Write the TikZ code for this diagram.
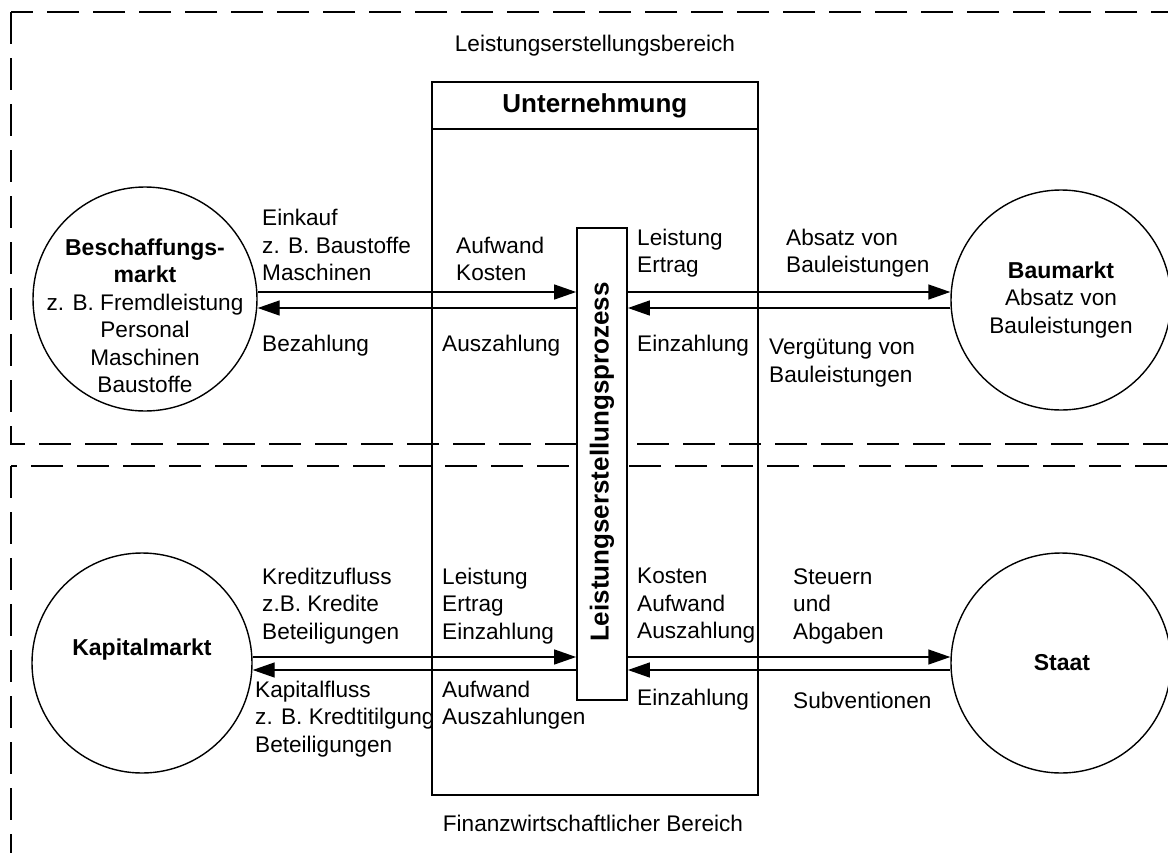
\documentclass[tikz,border=0pt]{standalone}
\usepackage{fontspec}
\setmainfont{Liberation Sans}
\usetikzlibrary{arrows.meta}

\begin{document}
\begin{tikzpicture}[x=1pt,y=-1pt,
  every node/.style={font=\fontsize{22.6}{27.5}\selectfont, inner sep=0pt},
  region/.style={line width=1.5pt, dash pattern=on 32pt off 14pt},
  market/.style={circle, draw, line width=1.4pt},
  box/.style={draw, line width=1.8pt},
  flow/.style={-{Triangle[length=22pt,width=15pt]}, line width=1.4pt},
  lbl/.style={anchor=west, align=left},
  ctr/.style={align=center},
  head/.style={font=\fontsize{26}{30}\selectfont\bfseries},
  mktname/.style={font=\fontsize{23}{27.5}\selectfont\bfseries}]

\useasboundingbox (0,0) rectangle (1168,852);
\clip (0,0) rectangle (1168,852);

% the two areas
\draw[region] (11,12) rectangle (1200,444);
\draw[region] (11,466) rectangle (1200,890);
\node (lbereich) at (595,46) {Leistungserstellungsbereich};
\node (fbereich) at (593,823) {Finanzwirtschaftlicher Bereich};

% the enterprise
\node[box, head, anchor=north west, minimum width=326pt, minimum height=47pt]
  (unthead) at (431,81) {Unternehmung};
\node[box, anchor=north west, minimum width=326pt, minimum height=666pt]
  (unt) at (431,128) {};
\node[box, fill=white, minimum width=50pt, minimum height=472pt] (proc) at (602,464) {};
\node[head, rotate=90] (proclbl) at (602,462) {Leistungserstellungsprozess};

% the markets
\node[market, minimum size=224pt] (besch) at (145,299) {};
\node[market, minimum size=220pt] (bau) at (1061,300) {};
\node[market, minimum size=220pt] (kap) at (142,663) {};
\node[market, minimum size=220pt] (staat) at (1061,663) {};

\node[ctr] (beschtxt) at (145,316)
  {\fontsize{23}{27.5}\selectfont\bfseries Beschaffungs-\\\fontsize{23}{27.5}\selectfont\bfseries markt\\z. B. Fremdleistung\\Personal\\Maschinen\\Baustoffe};
\node[ctr] (bautxt) at (1061,300) {\fontsize{23}{27.5}\selectfont\bfseries Baumarkt\\Absatz von\\Bauleistungen};
\node[mktname] (kaptxt) at (142,650) {Kapitalmarkt};
\node[mktname] (staattxt) at (1062,663) {Staat};

% rows of the flows
\coordinate (r1) at (0,292);
\coordinate (r2) at (0,308);
\coordinate (r3) at (0,657);
\coordinate (r4) at (0,670);

\draw[flow] (besch.east |- r1) -- (proc.west |- r1);
\draw[flow] (proc.west |- r2) -- (besch.east |- r2);
\draw[flow] (proc.east |- r1) -- (bau.west |- r1);
\draw[flow] (bau.west |- r2) -- (proc.east |- r2);
\draw[flow] (kap.east |- r3) -- (proc.west |- r3);
\draw[flow] (proc.west |- r4) -- (kap.east |- r4);
\draw[flow] (proc.east |- r3) -- (staat.west |- r3);
\draw[flow] (staat.west |- r4) -- (proc.east |- r4);

% labels, upper area
\node[lbl] (t1) at (262,245) {Einkauf\\z. B. Baustoffe\\Maschinen};
\node[lbl] (t2) at (262,346) {Bezahlung};
\node[lbl] (t3) at (456,259) {Aufwand\\Kosten};
\node[lbl] (t4) at (442,346) {Auszahlung};
\node[lbl] (t5) at (637,253) {Leistung\\Ertrag};
\node[lbl] (t6) at (637,346) {Einzahlung};
\node[lbl] (t7) at (786,253) {Absatz von\\Bauleistungen};
\node[lbl] (t8) at (769,363) {Vergütung von\\Bauleistungen};

% labels, lower area
\node[lbl] (b1) at (262,606) {Kreditzufluss\\z.B. Kredite\\Beteiligungen};
\node[lbl] (b2) at (255,719) {Kapitalfluss\\z. B. Kredtitilgung\\Beteiligungen};
\node[lbl] (b3) at (442,606) {Leistung\\Ertrag\\Einzahlung};
\node[lbl] (b4) at (442,705) {Aufwand\\Auszahlungen};
\node[lbl] (b5) at (637,606) {Kosten\\Aufwand\\Auszahlung};
\node[lbl] (b6) at (637,700) {Einzahlung};
\node[lbl] (b7) at (793,606) {Steuern\\und\\Abgaben};
\node[lbl] (b8) at (793,700) {Subventionen};
\end{tikzpicture}
\end{document}
